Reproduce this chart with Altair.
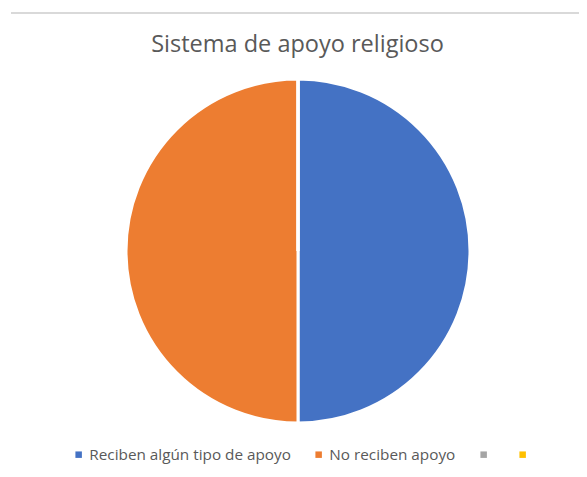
import altair as alt
import pandas as pd

categories = ["Reciben algún tipo de apoyo", "No reciben apoyo", "3", "4"]
values = [50, 50, 0, 0]
colors = ["#4472C4", "#ED7D31", "#A5A5A5", "#FFC000"]
title_text = "Sistema de apoyo religioso"

df = pd.DataFrame({"cat": categories, "val": values, "ord": list(range(len(categories)))})

W, H = 571, 412
TOP = 49

pie = alt.Chart(df).mark_arc(radius=172, stroke="white", strokeWidth=3).encode(
    theta=alt.Theta("val:Q", stack=True),
    order=alt.Order("ord:Q"),
    color=alt.Color(
        "cat:N",
        scale=alt.Scale(domain=categories, range=colors),
        sort=categories,
        legend=alt.Legend(
            orient="none",
            direction="horizontal",
            legendX=63,
            legendY=390,
            title=None,
            symbolType="square",
            symbolSize=42,
            symbolStrokeWidth=0,
            labelFont="Open Sans",
            labelFontSize=15.3,
            labelColor="#595959",
            labelOffset=3,
            labelLimit=400,
            columnPadding=20,
            labelExpr="(datum.label == '3' || datum.label == '4') ? '' : datum.label",
        ),
    ),
    x=alt.value(290),
    y=alt.value(194),
)

topline = alt.Chart(df).mark_rule(color="#D9D9D9", strokeWidth=1.5).encode(
    x=alt.value(3), x2=alt.value(W), y=alt.value(-44)
)

chart = alt.layer(pie, topline).properties(
    width=W,
    height=H,
    padding={"left": 0, "top": TOP, "right": 0, "bottom": 0},
    autosize=alt.AutoSizeParams(type="none"),
    title=alt.TitleParams(
        title_text,
        font="Open Sans",
        fontSize=23.5,
        fontWeight="normal",
        color="#595959",
        anchor="middle",
        offset=0,
        dx=4,
        dy=44,
    ),
).configure_view(stroke=None)

chart.save("out.html", embed_options={"renderer": "svg", "actions": False})
